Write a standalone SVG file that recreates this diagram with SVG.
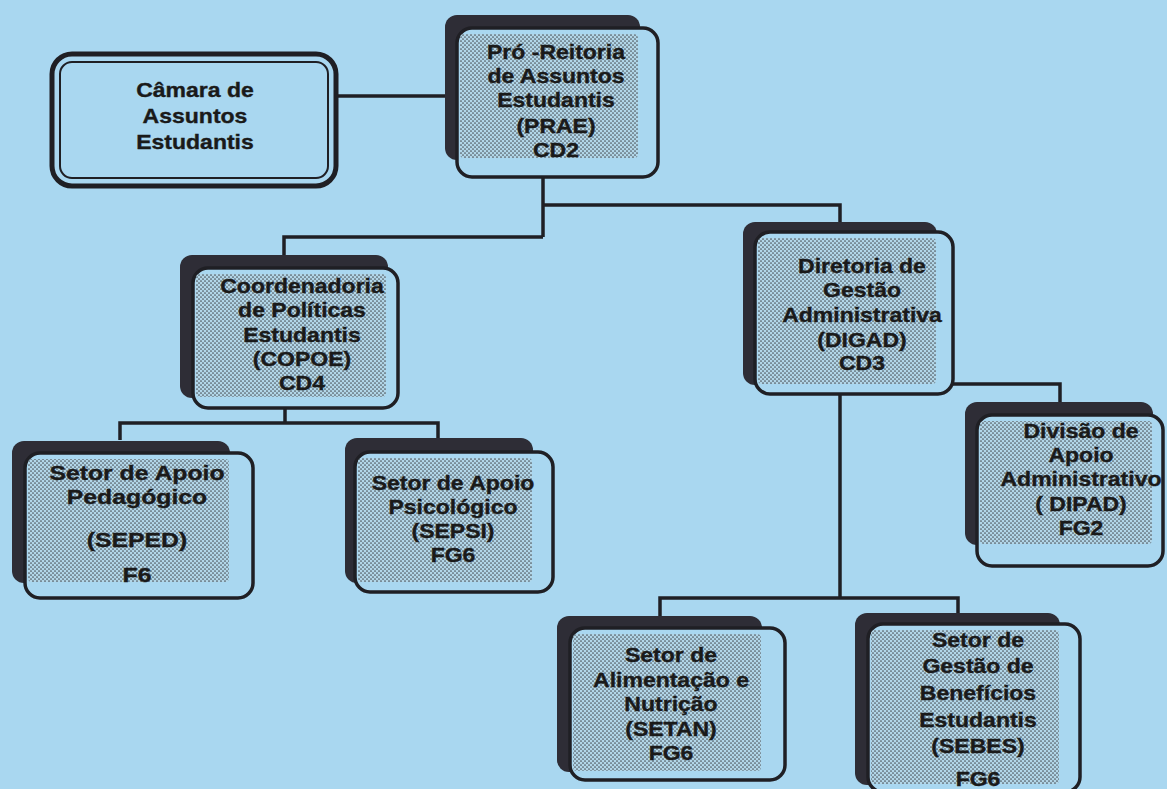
<svg xmlns="http://www.w3.org/2000/svg" width="1167" height="789" viewBox="0 0 1167 789">
<defs>
<pattern id="dots" width="4" height="4" patternUnits="userSpaceOnUse">
<rect width="4" height="4" fill="#b2d6e8"/>
<circle cx="1" cy="1" r="0.85" fill="#4a525a"/>
<circle cx="3" cy="3" r="0.85" fill="#4a525a"/>
</pattern>
<style>
.bg{fill:#a9d7f0}
.sh{fill:#2e2d36}
.fr{fill:#a9d7f0;stroke:#1f1f24;stroke-width:3.5}
.dt{fill:url(#dots)}
.t{font-family:"Liberation Sans",Arial,sans-serif;font-weight:bold;font-size:19.5px;fill:#1a1a1a;stroke:#1a1a1a;stroke-width:0.35;text-anchor:middle}
.big{font-size:21px}
.cn{fill:none;stroke:#1f1f24;stroke-width:3.5;stroke-linejoin:miter}
</style>
</defs>
<rect class="bg" width="1167" height="789"/>

<g id="connectors">
<line class="cn" x1="337" y1="96" x2="457" y2="96"/>
<polyline class="cn" points="543,177 543,237"/>
<polyline class="cn" points="543,205 840,205 840,222"/>
<polyline class="cn" points="543,237 284,237 284,255"/>
<polyline class="cn" points="285,408 285,423"/>
<polyline class="cn" points="120,440 120,423 438,423 438,438"/>
<polyline class="cn" points="953,384 1060,384 1060,402"/>
<polyline class="cn" points="840,394 840,598"/>
<polyline class="cn" points="660,616 660,598 958,598 958,613"/>
</g>

<g id="camara">
<rect x="52" y="54" width="284" height="132" rx="20" fill="#a9d7f0" stroke="#1f1f24" stroke-width="5"/>
<rect x="60" y="62" width="268" height="116" rx="12" fill="none" stroke="#1f1f24" stroke-width="2"/>
<g transform="translate(195 0) scale(1.18 1)">
<text class="t" x="0" y="97">Câmara de</text>
<text class="t" x="0" y="123">Assuntos</text>
<text class="t" x="0" y="149">Estudantis</text>
</g>
</g>

<g id="prae">
<rect class="sh" x="445" y="15" width="195" height="145" rx="12"/>
<rect class="fr" x="457" y="28" width="201" height="149" rx="15"/>
<rect class="dt" x="460" y="34" width="178" height="124" rx="4"/>
<g transform="translate(556 0) scale(1.18 1)">
<text class="t" x="0" y="59">Pró -Reitoria</text>
<text class="t" x="0" y="83">de Assuntos</text>
<text class="t" x="0" y="107">Estudantis</text>
<text class="t" x="0" y="133">(PRAE)</text>
<text class="t" x="0" y="157">CD2</text>
</g>
</g>

<g id="copoe">
<rect class="sh" x="180" y="255" width="208" height="143" rx="12"/>
<rect class="fr" x="193" y="268" width="205" height="140" rx="15"/>
<rect class="dt" x="196" y="274" width="190" height="123" rx="4"/>
<g transform="translate(302 0) scale(1.18 1)">
<text class="t" x="0" y="293">Coordenadoria</text>
<text class="t" x="0" y="317">de Políticas</text>
<text class="t" x="0" y="342">Estudantis</text>
<text class="t" x="0" y="366">(COPOE)</text>
<text class="t" x="0" y="390">CD4</text>
</g>
</g>

<g id="digad">
<rect class="sh" x="743" y="222" width="194" height="163" rx="12"/>
<rect class="fr" x="755" y="232" width="198" height="162" rx="15"/>
<rect class="dt" x="758" y="238" width="178" height="146" rx="4"/>
<g transform="translate(862 0) scale(1.18 1)">
<text class="t" x="0" y="273">Diretoria de</text>
<text class="t" x="0" y="297">Gestão</text>
<text class="t" x="0" y="322">Administrativa</text>
<text class="t" x="0" y="347">(DIGAD)</text>
<text class="t" x="0" y="370">CD3</text>
</g>
</g>

<g id="seped">
<rect class="sh" x="12" y="441" width="218" height="142" rx="12"/>
<rect class="fr" x="25" y="453" width="228" height="145" rx="15"/>
<rect class="dt" x="28" y="459" width="201" height="123" rx="4"/>
<g transform="translate(137 0) scale(1.18 1)">
<text class="t big" x="0" y="480">Setor de Apoio</text>
<text class="t big" x="0" y="504">Pedagógico</text>
<text class="t big" x="0" y="547">(SEPED)</text>
<text class="t big" x="0" y="582">F6</text>
</g>
</g>

<g id="sepsi">
<rect class="sh" x="345" y="438" width="188" height="145" rx="12"/>
<rect class="fr" x="355" y="452" width="198" height="140" rx="15"/>
<rect class="dt" x="358" y="458" width="174" height="124" rx="4"/>
<g transform="translate(453 0) scale(1.18 1)">
<text class="t" x="0" y="490">Setor de Apoio</text>
<text class="t" x="0" y="514">Psicológico</text>
<text class="t" x="0" y="538">(SEPSI)</text>
<text class="t" x="0" y="562">FG6</text>
</g>
</g>

<g id="dipad">
<rect class="sh" x="965" y="402" width="188" height="143" rx="12"/>
<rect class="fr" x="977" y="415" width="186" height="151" rx="15"/>
<rect class="dt" x="980" y="421" width="172" height="123" rx="4"/>
<g transform="translate(1081 0) scale(1.18 1)">
<text class="t" x="0" y="438">Divisão de</text>
<text class="t" x="0" y="462">Apoio</text>
<text class="t" x="0" y="486">Administrativo</text>
<text class="t" x="0" y="511">( DIPAD)</text>
<text class="t" x="0" y="535">FG2</text>
</g>
</g>

<g id="setan">
<rect class="sh" x="557" y="616" width="205" height="156" rx="12"/>
<rect class="fr" x="570" y="628" width="215" height="152" rx="15"/>
<rect class="dt" x="573" y="634" width="188" height="137" rx="4"/>
<g transform="translate(671 0) scale(1.18 1)">
<text class="t" x="0" y="662">Setor de</text>
<text class="t" x="0" y="687">Alimentação e</text>
<text class="t" x="0" y="711">Nutrição</text>
<text class="t" x="0" y="736">(SETAN)</text>
<text class="t" x="0" y="760">FG6</text>
</g>
</g>

<g id="sebes">
<rect class="sh" x="855" y="613" width="205" height="172" rx="12"/>
<rect class="fr" x="868" y="624" width="212" height="168" rx="15"/>
<rect class="dt" x="871" y="630" width="188" height="154" rx="4"/>
<g transform="translate(978 0) scale(1.18 1)">
<text class="t" x="0" y="647">Setor de</text>
<text class="t" x="0" y="673">Gestão de</text>
<text class="t" x="0" y="700">Benefícios</text>
<text class="t" x="0" y="727">Estudantis</text>
<text class="t" x="0" y="753">(SEBES)</text>
<text class="t" x="0" y="786">FG6</text>
</g>
</g>
</svg>
